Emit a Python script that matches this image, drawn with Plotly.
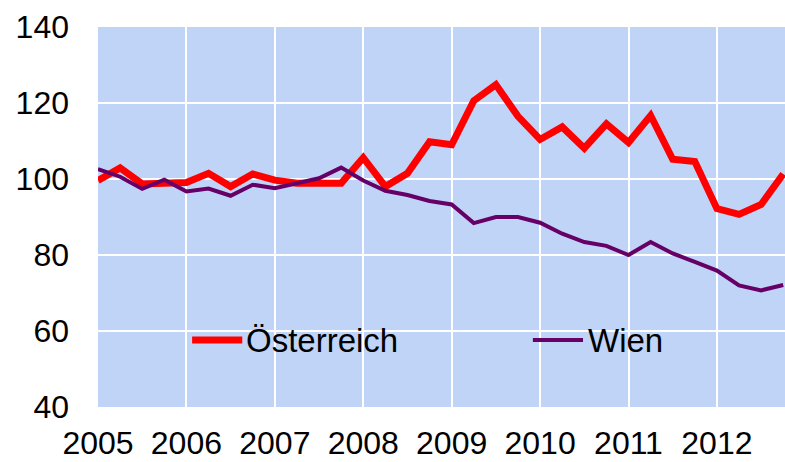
import plotly.graph_objects as go

quarters = list(range(32))
year_labels = ["2005", "2006", "2007", "2008", "2009", "2010", "2011", "2012"]
year_ticks = [0, 4, 8, 12, 16, 20, 24, 28]

oesterreich = [99.6, 102.9, 98.7, 99.1,
               99.1, 101.5, 98.0, 101.3,
               99.7, 98.9, 98.7, 98.9,
               105.6, 98.0, 101.5, 109.8,
               109.0, 120.6, 124.8, 116.5,
               110.4, 113.7, 108.1, 114.5,
               109.6, 116.7, 105.2, 104.6,
               92.2, 90.7, 93.3, 101.3]

wien = [102.6, 100.6, 97.4, 99.8,
        96.7, 97.5, 95.6, 98.5,
        97.6, 98.9, 100.2, 103.0,
        99.6, 96.9, 95.8, 94.2,
        93.3, 88.4, 90.0, 90.0,
        88.5, 85.6, 83.4, 82.4,
        80.0, 83.4, 80.4, 78.2,
        75.9, 72.0, 70.7, 72.1]

y_ticks = [40, 60, 80, 100, 120, 140]

RED = "#FF0000"
PURPLE = "#660066"
FONT = "Liberation Sans, Arial, sans-serif"

fig = go.Figure()
fig.add_trace(go.Scatter(x=quarters, y=oesterreich, mode="lines", name="Österreich",
                         line=dict(color=RED, width=7), showlegend=False, hoverinfo="skip"))
fig.add_trace(go.Scatter(x=quarters, y=wien, mode="lines", name="Wien",
                         line=dict(color=PURPLE, width=4), showlegend=False, hoverinfo="skip"))

# manual legend (inside plot area)
fig.add_shape(type="line", xref="paper", yref="paper", x0=0.137, x1=0.210, y0=0.176, y1=0.176,
              line=dict(color=RED, width=7), layer="above")
fig.add_annotation(xref="paper", yref="paper", x=0.212, y=0.176, text="Österreich",
                   showarrow=False, xanchor="left", yanchor="middle",
                   font=dict(family=FONT, size=33, color="black"))
fig.add_shape(type="line", xref="paper", yref="paper", x0=0.633, x1=0.706, y0=0.176, y1=0.176,
              line=dict(color=PURPLE, width=4), layer="above")
fig.add_annotation(xref="paper", yref="paper", x=0.710, y=0.176, text="Wien",
                   showarrow=False, xanchor="left", yanchor="middle",
                   font=dict(family=FONT, size=33, color="black"))

fig.update_layout(
    width=785, height=462,
    margin=dict(l=98, r=0, t=27, b=55, autoexpand=False),
    paper_bgcolor="white",
    plot_bgcolor="#C0D4F8",
    font=dict(family=FONT, size=32, color="black"),
    xaxis=dict(range=[0, 31.08], tickvals=year_ticks, ticktext=year_labels,
               showgrid=True, gridcolor="white", gridwidth=2, zeroline=False,
               showline=False, ticks="", ticklabelstandoff=14, automargin=False,
               tickfont=dict(family=FONT, size=32, color="black")),
    yaxis=dict(range=[40, 140], tickvals=y_ticks,
               showgrid=True, gridcolor="white", gridwidth=2, zeroline=False,
               showline=False, ticks="", ticklabelstandoff=28, automargin=False,
               tickfont=dict(family=FONT, size=32, color="black")),
)

fig.write_html("out.html", config={"displayModeBar": False},
               post_script="document.body.style.margin='0';")
